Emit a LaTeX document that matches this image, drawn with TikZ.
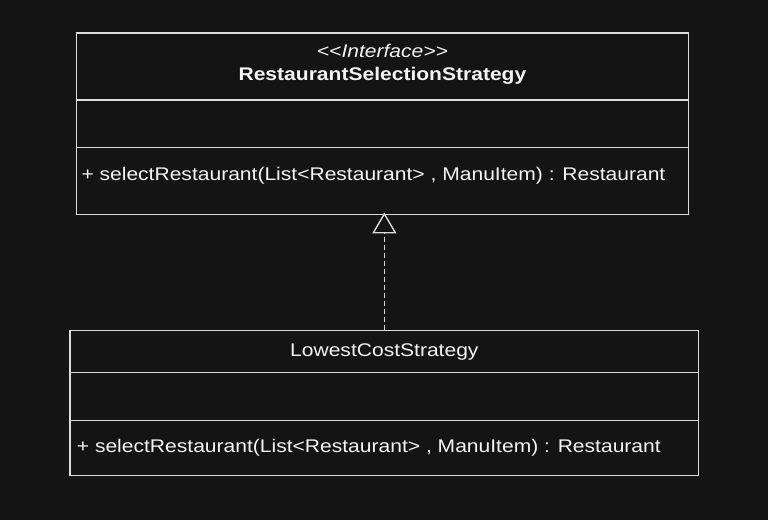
\documentclass[tikz,border=0pt]{standalone}
\usepackage{fontspec}
\setmainfont[FakeStretch=1.15]{Liberation Sans}
\usetikzlibrary{arrows.meta}
\definecolor{bg}{HTML}{141414}
\definecolor{ln}{HTML}{DCDCDC}
\definecolor{tx}{HTML}{F4F4F4}
\tikzset{
  umlbox/.style={draw=ln, line width=1.4pt, rectangle, inner sep=0pt, anchor=north west},
  sepline/.style={draw=ln, line width=1.4pt},
  txt/.style={text=tx, font=\fontsize{18.3}{21}\selectfont, inner sep=0pt},
  realize/.style={draw=ln, line width=1.4pt, dash pattern=on 5pt off 3pt,
    -{Triangle[open, length=21pt, width=24pt, fill=bg]}, shorten >=-2.5pt}
}
\begin{document}
\begin{tikzpicture}[x=1pt,y=-1pt]
\fill[bg] (0,0) rectangle (768,520);
\useasboundingbox (0,0) rectangle (768,520);
% interface box
\node[umlbox, minimum width=612.5pt, minimum height=181.2pt] (iface) at (75.5,32.3) {};
\draw[sepline] (iface.west |- 0,100) -- (iface.east |- 0,100);
\draw[sepline] (iface.west |- 0,147.5) -- (iface.east |- 0,147.5);
\node[txt, anchor=base, font=\fontsize{18.3}{21}\selectfont\itshape] (stereo) at (iface.north |- 0,57) {<\kern0pt<Interface>\kern0pt>};
\node[txt, anchor=base, font=\fontsize{18.3}{21}\selectfont\bfseries] (iname) at (iface.north |- 0,80) {RestaurantSelectionStrategy};
\node[txt, anchor=base west] (imeth) at (81.3,180) {+ selectRestaurant(List<Restaurant> , ManuItem) : Restaurant};
% implementation box
\node[umlbox, minimum width=628.7pt, minimum height=144.8pt] (impl) at (69.3,329.7) {};
\draw[sepline] (impl.west |- 0,372.3) -- (impl.east |- 0,372.3);
\draw[sepline] (impl.west |- 0,420.3) -- (impl.east |- 0,420.3);
\node[txt, anchor=base] (cname) at (impl.north |- 0,356.7) {LowestCostStrategy};
\node[txt, anchor=base west] (cmeth) at (76.7,452) {+ selectRestaurant(List<Restaurant> , ManuItem) : Restaurant};
% realization
\draw[realize] (impl.north) -- (impl.north |- iface.south);
\end{tikzpicture}
\end{document}
